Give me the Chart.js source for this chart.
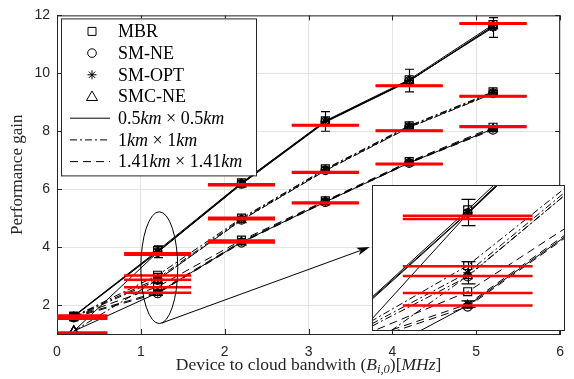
<!DOCTYPE html>
<html><head><meta charset="utf-8">
<script src="https://cdn.jsdelivr.net/npm/chart.js@4/dist/chart.umd.min.js"></script>
<style>
html,body{margin:0;padding:0;background:#fff;}
#wrap{position:relative;width:574px;height:379px;overflow:hidden;}
#main{position:absolute;left:0;top:0;}
#inset{position:absolute;left:372px;top:185px;}
</style></head><body>
<div id="wrap"><canvas id="main" width="574" height="379"></canvas><canvas id="inset" width="193" height="146"></canvas></div>
<script>
// ---------- data ----------
const bandwidth = [0.2, 1.2, 2.2, 3.2, 4.2, 5.2];
const xTicks = [0, 1, 2, 3, 4, 5, 6];
const yTicks = [2, 4, 6, 8, 10, 12];
const methods = ['MBR', 'SM-NE', 'SM-OPT', 'SMC-NE'];
const areaLabels = ['0.5km × 0.5km', '1km × 1km', '1.41km × 1.41km'];

// 0.5km x 0.5km
const mbr05   = [1.62, 3.88, 6.22, 8.36, 9.78, 11.68];
const smne05  = [1.60, 3.83, 6.18, 8.33, 9.74, 11.62];
const smopt05 = [1.62, 3.84, 6.21, 8.34, 9.75, 11.58];
const smcne05 = [1.10, 3.82, 6.17, 8.31, 9.73, 11.63];
// 1km x 1km
const mbr1   = [1.60, 3.03, 5.00, 6.70, 8.19, 9.36];
const smne1  = [1.58, 2.86, 4.94, 6.65, 8.14, 9.31];
const smopt1 = [1.60, 2.92, 4.97, 6.68, 8.17, 9.34];
const smcne1 = [1.10, 2.87, 4.93, 6.64, 8.13, 9.30];
// 1.41km x 1.41km
const mbr141   = [1.60, 2.63, 4.24, 5.60, 6.95, 8.14];
const smne141  = [1.57, 2.40, 4.15, 5.55, 6.90, 8.05];
const smopt141 = [1.60, 2.44, 4.20, 5.58, 6.93, 8.10];
const smcne141 = [1.10, 2.42, 4.17, 5.56, 6.91, 8.08];

// error bar half-lengths (around SM-OPT)
const err05  = [0.05, 0.20, 0.08, 0.34, 0.39, 0.34];
const err1   = [0.04, 0.17, 0.06, 0.06, 0.06, 0.06];
const err141 = [0.03, 0.05, 0.05, 0.05, 0.05, 0.05];

// red reference bars (two per area), spanning bandwidth +/- redHalf
const redHalf = 0.4;
const redA05  = [1.64, 3.79, 6.17, 8.22, 9.58, 11.73];
const redB05  = [1.61, 3.74, 6.14, 8.20, 9.56, 11.71];
const redA1   = [1.55, 3.02, 5.01, 6.59, 8.03, 9.22];
const redB1   = [1.53, 2.87, 4.96, 6.57, 8.01, 9.20];
const redA141 = [1.05, 2.61, 4.23, 5.54, 6.88, 8.17];
const redB141 = [1.03, 2.42, 4.16, 5.51, 6.86, 8.15];

// zoom annotation (data units): ellipse [cx, cy, rx, ry], arrow [x0, y0, x1, y1]
const zoomEllipse = [1.22, 3.29, 0.22, 1.93];
const zoomArrow = [1.25, 1.38, 3.73, 4.0];
// inset ranges
const insetX = [0.61, 1.80];
const insetY = [2.03, 4.26];

// ---------- assembly ----------
const areaSeries = [
  [mbr05, smne05, smopt05, smcne05],
  [mbr1, smne1, smopt1, smcne1],
  [mbr141, smne141, smopt141, smcne141]
];
const areaErr = [err05, err1, err141];
const areaErrCenter = [smopt05, smopt1, smopt141];
const redSets = [redA05, redB05, redA1, redB1, redA141, redB141];

const DASHES = [[], [7, 3, 2, 3], [8, 5]];
const MARK = ['rect', 'circle', 'star', 'triangle'];
const MARK_R = [5.6, 4.3, 4.5, 5.2];
const INK = '#262626';

function makeDatasets() {
  const ds = [];
  areaSeries.forEach((group, a) => {
    group.forEach((vals, m) => {
      const solid = (a === 2 && m === 3);
      ds.push({
        label: methods[m] + ' ' + areaLabels[a],
        data: bandwidth.map((x, i) => ({x: x, y: vals[i]})),
        showLine: true,
        borderColor: '#000',
        borderWidth: 1,
        borderDash: solid ? [] : DASHES[a],
        pointStyle: MARK[m],
        pointRadius: MARK_R[m],
        pointBorderColor: '#000',
        pointBackgroundColor: 'rgba(0,0,0,0)',
        pointBorderWidth: 1.2,
        tension: 0,
        fill: false
      });
    });
  });
  return ds;
}

function clipArea(ctx, ca) {
  ctx.beginPath();
  ctx.rect(ca.left, ca.top, ca.right - ca.left, ca.bottom - ca.top);
  ctx.clip();
}

function drawErrAndRed(chart, cap) {
  const ctx = chart.ctx, xs = chart.scales.x, ys = chart.scales.y;
  ctx.save();
  clipArea(ctx, chart.chartArea);
  ctx.strokeStyle = '#000';
  ctx.lineWidth = 1.2;
  ctx.setLineDash([]);
  areaErr.forEach((err, a) => {
    const c = areaErrCenter[a];
    bandwidth.forEach((x, i) => {
      const px = Math.round(xs.getPixelForValue(x)) + 0.5;
      const y0 = ys.getPixelForValue(c[i] - err[i]);
      const y1 = ys.getPixelForValue(c[i] + err[i]);
      ctx.beginPath();
      ctx.moveTo(px, y0); ctx.lineTo(px, y1);
      ctx.moveTo(px - cap, y0); ctx.lineTo(px + cap, y0);
      ctx.moveTo(px - cap, y1); ctx.lineTo(px + cap, y1);
      ctx.stroke();
    });
  });
  ctx.strokeStyle = '#ff0000';
  ctx.lineWidth = 2.5;
  redSets.forEach(vals => {
    bandwidth.forEach((x, i) => {
      const py = ys.getPixelForValue(vals[i]);
      ctx.beginPath();
      ctx.moveTo(xs.getPixelForValue(x - redHalf), py);
      ctx.lineTo(xs.getPixelForValue(x + redHalf), py);
      ctx.stroke();
    });
  });
  ctx.restore();
}

function drawRich(ctx, segs, x, y, align) {
  let total = 0;
  segs.forEach(s => { ctx.font = s.f; s.w = ctx.measureText(s.t).width; total += s.w; });
  let cx = align === 'center' ? x - total / 2 : x;
  ctx.textAlign = 'left';
  segs.forEach(s => { ctx.font = s.f; ctx.fillText(s.t, cx, y + (s.dy || 0)); cx += s.w; });
}

const SERIF = '"Liberation Serif", "Times New Roman", serif';
function fN(sz) { return sz + 'px ' + SERIF; }
function fI(sz) { return 'italic ' + sz + 'px ' + SERIF; }

function legendMarker(ctx, kind, x, y) {
  ctx.beginPath();
  if (kind === 0) { ctx.rect(x - 4, y - 4, 8, 8); }
  else if (kind === 1) { ctx.arc(x, y, 4.3, 0, Math.PI * 2); }
  else if (kind === 2) {
    for (let k = 0; k < 4; k++) {
      const ang = k * Math.PI / 4;
      ctx.moveTo(x - 4.5 * Math.cos(ang), y - 4.5 * Math.sin(ang));
      ctx.lineTo(x + 4.5 * Math.cos(ang), y + 4.5 * Math.sin(ang));
    }
  } else {
    ctx.moveTo(x, y - 5.5); ctx.lineTo(x + 5.5, y + 4); ctx.lineTo(x - 5.5, y + 4); ctx.closePath();
  }
  ctx.stroke();
}

const mainPlugin = {
  id: 'mainDecor',
  beforeDraw(chart) {
    const ctx = chart.ctx;
    ctx.save(); ctx.fillStyle = '#fff'; ctx.fillRect(0, 0, chart.width, chart.height); ctx.restore();
  },
  afterDatasetsDraw(chart) {
    const ctx = chart.ctx, ca = chart.chartArea, xs = chart.scales.x, ys = chart.scales.y;
    drawErrAndRed(chart, 4.5);

    ctx.save();
    ctx.strokeStyle = '#000'; ctx.fillStyle = '#000'; ctx.lineWidth = 1; ctx.setLineDash([]);
    const ecx = xs.getPixelForValue(zoomEllipse[0]), ecy = ys.getPixelForValue(zoomEllipse[1]);
    const erx = Math.abs(xs.getPixelForValue(zoomEllipse[0] + zoomEllipse[2]) - ecx);
    const ery = Math.abs(ys.getPixelForValue(zoomEllipse[1] + zoomEllipse[3]) - ecy);
    ctx.beginPath(); ctx.ellipse(ecx, ecy, erx, ery, 0, 0, Math.PI * 2); ctx.stroke();
    const ax0 = xs.getPixelForValue(zoomArrow[0]), ay0 = ys.getPixelForValue(zoomArrow[1]);
    const ax1 = xs.getPixelForValue(zoomArrow[2]), ay1 = ys.getPixelForValue(zoomArrow[3]);
    const ang = Math.atan2(ay1 - ay0, ax1 - ax0), hl = 13, hw = 4;
    ctx.beginPath(); ctx.moveTo(ax0, ay0);
    ctx.lineTo(ax1 - hl * 0.8 * Math.cos(ang), ay1 - hl * 0.8 * Math.sin(ang)); ctx.stroke();
    ctx.beginPath();
    ctx.moveTo(ax1, ay1);
    ctx.lineTo(ax1 - hl * Math.cos(ang) + hw * Math.sin(ang), ay1 - hl * Math.sin(ang) - hw * Math.cos(ang));
    ctx.lineTo(ax1 - hl * 0.75 * Math.cos(ang), ay1 - hl * 0.75 * Math.sin(ang));
    ctx.lineTo(ax1 - hl * Math.cos(ang) - hw * Math.sin(ang), ay1 - hl * Math.sin(ang) + hw * Math.cos(ang));
    ctx.closePath(); ctx.fill();
    ctx.restore();

    ctx.save();
    ctx.strokeStyle = INK; ctx.lineWidth = 1; ctx.setLineDash([]);
    ctx.beginPath();
    ctx.moveTo(ca.left, ca.top + 0.5); ctx.lineTo(ca.right, ca.top + 0.5);
    ctx.moveTo(ca.right - 0.5, ca.top); ctx.lineTo(ca.right - 0.5, ca.bottom);
    xs.ticks.forEach(t => {
      const px = Math.round(xs.getPixelForValue(t.value)) + 0.5;
      ctx.moveTo(px, ca.bottom); ctx.lineTo(px, ca.bottom - 5);
      ctx.moveTo(px, ca.top); ctx.lineTo(px, ca.top + 5);
    });
    ys.ticks.forEach(t => {
      const py = Math.round(ys.getPixelForValue(t.value)) + 0.5;
      ctx.moveTo(ca.left, py); ctx.lineTo(ca.left + 5, py);
      ctx.moveTo(ca.right, py); ctx.lineTo(ca.right - 5, py);
    });
    ctx.stroke();
    ctx.restore();

    // legend
    ctx.save();
    const L = ca.left + 4, T = ca.top + 3, W = 195, H = 157;
    ctx.fillStyle = '#fff'; ctx.fillRect(L, T, W, H);
    ctx.strokeStyle = INK; ctx.lineWidth = 1; ctx.setLineDash([]);
    ctx.strokeRect(L + 0.5, T + 0.5, W, H);
    ctx.fillStyle = '#000'; ctx.textBaseline = 'middle';
    const rowY = i => T + 13 + i * 21.7;
    methods.forEach((m, i) => {
      ctx.strokeStyle = '#000'; ctx.lineWidth = 1; ctx.setLineDash([]);
      legendMarker(ctx, i, L + 31, rowY(i));
      drawRich(ctx, [{t: m, f: fN(18)}], L + 57, rowY(i) + 1, 'left');
    });
    const areaParts = [['0.5', '0.5'], ['1', '1'], ['1.41', '1.41']];
    areaParts.forEach((p, a) => {
      const y = rowY(4 + a);
      ctx.strokeStyle = '#000'; ctx.lineWidth = 1; ctx.setLineDash(DASHES[a]);
      ctx.beginPath(); ctx.moveTo(L + 9, y); ctx.lineTo(L + 49, y); ctx.stroke();
      ctx.setLineDash([]);
      drawRich(ctx, [
        {t: p[0], f: fN(18)}, {t: 'km', f: fI(18)}, {t: ' × ', f: fN(18)},
        {t: p[1], f: fN(18)}, {t: 'km', f: fI(18)}
      ], L + 57, y + 1, 'left');
    });
    ctx.restore();

    // axis titles
    ctx.save();
    ctx.fillStyle = INK; ctx.textBaseline = 'alphabetic';
    drawRich(ctx, [
      {t: 'Device to cloud bandwith ', f: fN(17.5)}, {t: '(', f: fN(17.5)}, {t: 'B', f: fI(17.5)},
      {t: 'i,0', f: fI(12.5), dy: 3}, {t: ')', f: fN(17.5)}, {t: '[', f: fN(17.5)},
      {t: 'MHz', f: fI(17.5)}, {t: ']', f: fN(17.5)}
    ], (ca.left + ca.right) / 2, ca.bottom + 36, 'center');
    ctx.translate(ca.left - 39, (ca.top + ca.bottom) / 2);
    ctx.rotate(-Math.PI / 2);
    ctx.textAlign = 'center'; ctx.textBaseline = 'middle';
    ctx.font = fN(17);
    ctx.fillText('Performance gain', 0, 0);
    ctx.restore();
  }
};

const insetPlugin = {
  id: 'insetDecor',
  beforeDraw(chart) {
    const ctx = chart.ctx;
    ctx.save(); ctx.fillStyle = '#fff'; ctx.fillRect(0, 0, chart.width, chart.height); ctx.restore();
  },
  afterDatasetsDraw(chart) {
    drawErrAndRed(chart, 7);
    const ctx = chart.ctx, ca = chart.chartArea;
    ctx.save();
    ctx.strokeStyle = INK; ctx.lineWidth = 1; ctx.setLineDash([]);
    ctx.strokeRect(ca.left + 0.5, ca.top + 0.5, ca.right - ca.left - 1, ca.bottom - ca.top - 1);
    ctx.restore();
  }
};

const tickFont = {family: '"Liberation Sans", Arial, sans-serif', size: 14};

new Chart(document.getElementById('main'), {
  type: 'scatter',
  data: {datasets: makeDatasets()},
  options: {
    responsive: false, animation: false, devicePixelRatio: 1,
    layout: {autoPadding: false, padding: {top: 11, right: 10, left: 0, bottom: 0}},
    plugins: {legend: {display: false}, tooltip: {enabled: false}},
    scales: {
      x: {
        type: 'linear', min: 0, max: 6,
        afterBuildTicks: s => { s.ticks = xTicks.map(v => ({value: v})); },
        afterFit: s => { s.height = 45; },
        grid: {color: '#e4e4e4', drawTicks: false},
        border: {color: INK},
        ticks: {padding: 10, font: tickFont, color: INK, maxRotation: 0}
      },
      y: {
        type: 'linear', min: 1, max: 12,
        afterBuildTicks: s => { s.ticks = yTicks.map(v => ({value: v})); },
        afterFit: s => { s.width = 57; },
        grid: {color: '#e4e4e4', drawTicks: false},
        border: {color: INK},
        ticks: {padding: 7, font: tickFont, color: INK}
      }
    }
  },
  plugins: [mainPlugin]
});

new Chart(document.getElementById('inset'), {
  type: 'scatter',
  data: {datasets: makeDatasets()},
  options: {
    responsive: false, animation: false, devicePixelRatio: 1,
    layout: {autoPadding: false, padding: 0},
    plugins: {legend: {display: false}, tooltip: {enabled: false}},
    scales: {
      x: {type: 'linear', min: insetX[0], max: insetX[1], display: false},
      y: {type: 'linear', min: insetY[0], max: insetY[1], display: false}
    }
  },
  plugins: [insetPlugin]
});
</script>
</body></html>
